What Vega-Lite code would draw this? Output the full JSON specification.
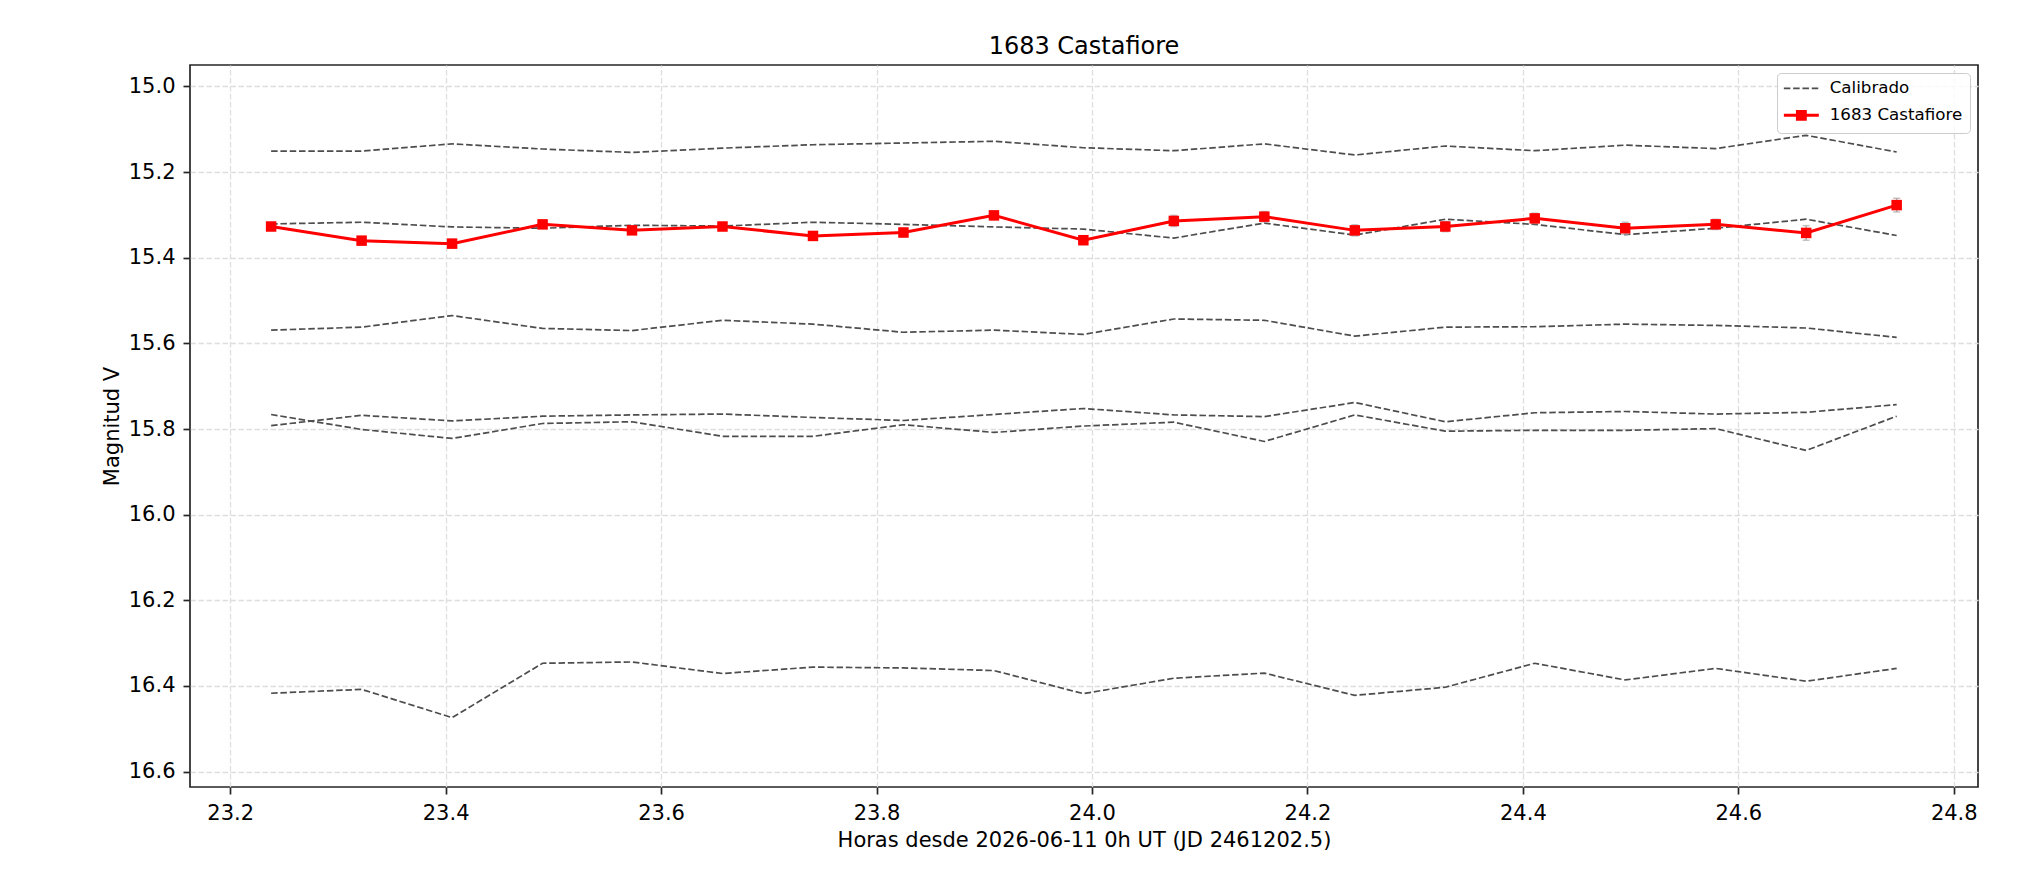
{
  "$schema": "https://vega.github.io/schema/vega-lite/v6.json",
  "width": 1788,
  "height": 722,
  "autosize": {"type": "none"},
  "padding": {"left": 190, "top": 65, "right": 56, "bottom": 105},
  "background": "white",
  "title": {"text": "1683 Castafiore", "fontSize": 24, "font": "DejaVu Sans", "fontWeight": "normal", "color": "#000000", "offset": 6},
  "datasets": {
    "comps": [
      {"star": "C1", "t": 23.238, "mag": 15.151}, {"star": "C1", "t": 23.322, "mag": 15.151}, {"star": "C1", "t": 23.406, "mag": 15.134}, {"star": "C1", "t": 23.490, "mag": 15.146}, {"star": "C1", "t": 23.573, "mag": 15.154}, {"star": "C1", "t": 23.657, "mag": 15.144}, {"star": "C1", "t": 23.741, "mag": 15.136}, {"star": "C1", "t": 23.825, "mag": 15.132}, {"star": "C1", "t": 23.909, "mag": 15.128}, {"star": "C1", "t": 23.992, "mag": 15.143}, {"star": "C1", "t": 24.076, "mag": 15.150}, {"star": "C1", "t": 24.160, "mag": 15.134}, {"star": "C1", "t": 24.244, "mag": 15.160}, {"star": "C1", "t": 24.328, "mag": 15.139}, {"star": "C1", "t": 24.411, "mag": 15.150}, {"star": "C1", "t": 24.495, "mag": 15.137}, {"star": "C1", "t": 24.579, "mag": 15.145}, {"star": "C1", "t": 24.663, "mag": 15.114}, {"star": "C1", "t": 24.747, "mag": 15.153},
      {"star": "C2", "t": 23.238, "mag": 15.321}, {"star": "C2", "t": 23.322, "mag": 15.317}, {"star": "C2", "t": 23.406, "mag": 15.328}, {"star": "C2", "t": 23.490, "mag": 15.331}, {"star": "C2", "t": 23.573, "mag": 15.324}, {"star": "C2", "t": 23.657, "mag": 15.326}, {"star": "C2", "t": 23.741, "mag": 15.317}, {"star": "C2", "t": 23.825, "mag": 15.322}, {"star": "C2", "t": 23.909, "mag": 15.328}, {"star": "C2", "t": 23.992, "mag": 15.333}, {"star": "C2", "t": 24.076, "mag": 15.354}, {"star": "C2", "t": 24.160, "mag": 15.319}, {"star": "C2", "t": 24.244, "mag": 15.347}, {"star": "C2", "t": 24.328, "mag": 15.310}, {"star": "C2", "t": 24.411, "mag": 15.322}, {"star": "C2", "t": 24.495, "mag": 15.346}, {"star": "C2", "t": 24.579, "mag": 15.331}, {"star": "C2", "t": 24.663, "mag": 15.310}, {"star": "C2", "t": 24.747, "mag": 15.348},
      {"star": "C3", "t": 23.238, "mag": 15.569}, {"star": "C3", "t": 23.322, "mag": 15.562}, {"star": "C3", "t": 23.406, "mag": 15.535}, {"star": "C3", "t": 23.490, "mag": 15.565}, {"star": "C3", "t": 23.573, "mag": 15.570}, {"star": "C3", "t": 23.657, "mag": 15.546}, {"star": "C3", "t": 23.741, "mag": 15.555}, {"star": "C3", "t": 23.825, "mag": 15.574}, {"star": "C3", "t": 23.909, "mag": 15.569}, {"star": "C3", "t": 23.992, "mag": 15.579}, {"star": "C3", "t": 24.076, "mag": 15.543}, {"star": "C3", "t": 24.160, "mag": 15.546}, {"star": "C3", "t": 24.244, "mag": 15.583}, {"star": "C3", "t": 24.328, "mag": 15.562}, {"star": "C3", "t": 24.411, "mag": 15.561}, {"star": "C3", "t": 24.495, "mag": 15.555}, {"star": "C3", "t": 24.579, "mag": 15.558}, {"star": "C3", "t": 24.663, "mag": 15.564}, {"star": "C3", "t": 24.747, "mag": 15.586},
      {"star": "C4", "t": 23.238, "mag": 15.792}, {"star": "C4", "t": 23.322, "mag": 15.768}, {"star": "C4", "t": 23.406, "mag": 15.781}, {"star": "C4", "t": 23.490, "mag": 15.770}, {"star": "C4", "t": 23.573, "mag": 15.767}, {"star": "C4", "t": 23.657, "mag": 15.765}, {"star": "C4", "t": 23.741, "mag": 15.773}, {"star": "C4", "t": 23.825, "mag": 15.780}, {"star": "C4", "t": 23.909, "mag": 15.766}, {"star": "C4", "t": 23.992, "mag": 15.752}, {"star": "C4", "t": 24.076, "mag": 15.767}, {"star": "C4", "t": 24.160, "mag": 15.771}, {"star": "C4", "t": 24.244, "mag": 15.738}, {"star": "C4", "t": 24.328, "mag": 15.783}, {"star": "C4", "t": 24.411, "mag": 15.762}, {"star": "C4", "t": 24.495, "mag": 15.759}, {"star": "C4", "t": 24.579, "mag": 15.765}, {"star": "C4", "t": 24.663, "mag": 15.761}, {"star": "C4", "t": 24.747, "mag": 15.743},
      {"star": "C5", "t": 23.238, "mag": 15.766}, {"star": "C5", "t": 23.322, "mag": 15.801}, {"star": "C5", "t": 23.406, "mag": 15.822}, {"star": "C5", "t": 23.490, "mag": 15.787}, {"star": "C5", "t": 23.573, "mag": 15.783}, {"star": "C5", "t": 23.657, "mag": 15.817}, {"star": "C5", "t": 23.741, "mag": 15.817}, {"star": "C5", "t": 23.825, "mag": 15.790}, {"star": "C5", "t": 23.909, "mag": 15.808}, {"star": "C5", "t": 23.992, "mag": 15.793}, {"star": "C5", "t": 24.076, "mag": 15.784}, {"star": "C5", "t": 24.160, "mag": 15.829}, {"star": "C5", "t": 24.244, "mag": 15.767}, {"star": "C5", "t": 24.328, "mag": 15.805}, {"star": "C5", "t": 24.411, "mag": 15.803}, {"star": "C5", "t": 24.495, "mag": 15.803}, {"star": "C5", "t": 24.579, "mag": 15.799}, {"star": "C5", "t": 24.663, "mag": 15.850}, {"star": "C5", "t": 24.747, "mag": 15.770},
      {"star": "C6", "t": 23.238, "mag": 16.417}, {"star": "C6", "t": 23.322, "mag": 16.408}, {"star": "C6", "t": 23.406, "mag": 16.474}, {"star": "C6", "t": 23.490, "mag": 16.347}, {"star": "C6", "t": 23.573, "mag": 16.344}, {"star": "C6", "t": 23.657, "mag": 16.371}, {"star": "C6", "t": 23.741, "mag": 16.356}, {"star": "C6", "t": 23.825, "mag": 16.358}, {"star": "C6", "t": 23.909, "mag": 16.364}, {"star": "C6", "t": 23.992, "mag": 16.418}, {"star": "C6", "t": 24.076, "mag": 16.382}, {"star": "C6", "t": 24.160, "mag": 16.370}, {"star": "C6", "t": 24.244, "mag": 16.422}, {"star": "C6", "t": 24.328, "mag": 16.403}, {"star": "C6", "t": 24.411, "mag": 16.347}, {"star": "C6", "t": 24.495, "mag": 16.386}, {"star": "C6", "t": 24.579, "mag": 16.359}, {"star": "C6", "t": 24.663, "mag": 16.389}, {"star": "C6", "t": 24.747, "mag": 16.359}
    ],
    "target": [
      {"t": 23.238, "mag": 15.327, "err": 0.008}, {"t": 23.322, "mag": 15.360, "err": 0.009}, {"t": 23.406, "mag": 15.367, "err": 0.010}, {"t": 23.490, "mag": 15.322, "err": 0.008}, {"t": 23.573, "mag": 15.336, "err": 0.009}, {"t": 23.657, "mag": 15.327, "err": 0.009}, {"t": 23.741, "mag": 15.349, "err": 0.009}, {"t": 23.825, "mag": 15.341, "err": 0.010}, {"t": 23.909, "mag": 15.301, "err": 0.010}, {"t": 23.992, "mag": 15.359, "err": 0.010}, {"t": 24.076, "mag": 15.314, "err": 0.013}, {"t": 24.160, "mag": 15.304, "err": 0.012}, {"t": 24.244, "mag": 15.336, "err": 0.013}, {"t": 24.328, "mag": 15.327, "err": 0.012}, {"t": 24.411, "mag": 15.308, "err": 0.012}, {"t": 24.495, "mag": 15.331, "err": 0.014}, {"t": 24.579, "mag": 15.322, "err": 0.012}, {"t": 24.663, "mag": 15.342, "err": 0.017}, {"t": 24.747, "mag": 15.277, "err": 0.016}
    ]
  },
  "config": {
    "view": {"stroke": "#262626", "strokeWidth": 1.7},
    "axis": {
      "labelFont": "DejaVu Sans", "labelFontSize": 21, "labelColor": "#000000",
      "titleFont": "DejaVu Sans", "titleFontSize": 21, "titleFontWeight": "normal", "titleColor": "#000000",
      "tickColor": "#262626", "tickWidth": 1.7, "tickSize": 7, "labelPadding": 8,
      "domain": false, "grid": true, "gridColor": "#dedede", "gridDash": [5.5, 2.5], "gridWidth": 1.3,
      "labelFlush": false, "labelOverlap": false
    },
    "axisX": {"titlePadding": 6},
    "axisY": {"titlePadding": 6},
    "legend": {
      "orient": "top-right", "offset": 8, "padding": 7, "cornerRadius": 4,
      "strokeColor": "#cccccc", "fillColor": "rgba(255,255,255,0.8)",
      "labelFont": "DejaVu Sans", "labelFontSize": 16.7, "labelColor": "#000000",
      "symbolSize": 306, "labelOffset": 20, "symbolOffset": 9, "rowPadding": 7
    }
  },
  "encoding": {
    "x": {
      "field": "t", "type": "quantitative",
      "scale": {"domain": [23.1627, 24.8225], "nice": false, "zero": false},
      "axis": {"title": "Horas desde 2026-06-11 0h UT (JD 2461202.5)", "values": [23.2, 23.4, 23.6, 23.8, 24.0, 24.2, 24.4, 24.6, 24.8], "format": ".1f"}
    },
    "y": {
      "field": "mag", "type": "quantitative",
      "scale": {"domain": [14.9498, 16.636], "reverse": true, "nice": false, "zero": false},
      "axis": {"title": "Magnitud V", "values": [15.0, 15.2, 15.4, 15.6, 15.8, 16.0, 16.2, 16.4, 16.6], "format": ".1f"}
    }
  },
  "layer": [
    {
      "data": {"name": "comps"},
      "mark": {"type": "line", "strokeDash": [6.5, 2.8], "strokeWidth": 1.7},
      "encoding": {
        "detail": {"field": "star", "type": "nominal"},
        "color": {
          "datum": "Calibrado", "type": "nominal",
          "scale": {"domain": ["Calibrado", "1683 Castafiore"], "range": ["#4d4d4d", "#ff0000"]},
          "legend": {
            "title": null,
            "encode": {
              "symbols": {
                "update": {
                  "shape": {"signal": "datum.value === 'Calibrado' ? 'M-2,0H2' : 'M-2,0H2M-0.45,-0.45H0.45V0.45H-0.45Z'"},
                  "fill": {"signal": "datum.value === 'Calibrado' ? 'transparent' : '#ff0000'"},
                  "stroke": {"signal": "datum.value === 'Calibrado' ? '#4d4d4d' : '#ff0000'"},
                  "strokeDash": {"signal": "datum.value === 'Calibrado' ? [6.5, 2.8] : [1, 0]"},
                  "strokeWidth": {"signal": "datum.value === 'Calibrado' ? 1.7 : 3"},
                  "opacity": {"value": 1}
                }
              }
            }
          }
        }
      }
    },
    {
      "data": {"name": "target"},
      "mark": {"type": "errorbar", "ticks": {"size": 7}, "color": "#aaaaaa", "thickness": 1.5},
      "encoding": {"yError": {"field": "err"}}
    },
    {
      "data": {"name": "target"},
      "mark": {"type": "line", "strokeWidth": 3},
      "encoding": {"color": {"datum": "1683 Castafiore", "type": "nominal"}}
    },
    {
      "data": {"name": "target"},
      "mark": {"type": "point", "shape": "square", "filled": true, "size": 110, "color": "#ff0000", "opacity": 1}
    }
  ]
}
